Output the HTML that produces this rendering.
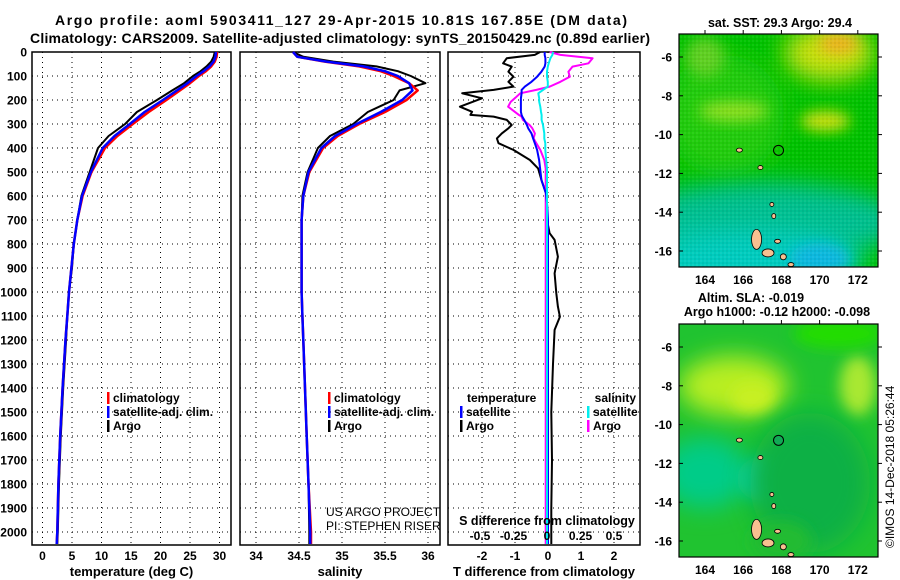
<!DOCTYPE html>
<html><head><meta charset="utf-8"><style>
html,body{margin:0;padding:0;background:#fff;}
svg{display:block;font-family:"Liberation Sans",sans-serif;}
</style></head><body>
<svg id="c" width="900" height="580" viewBox="0 0 900 580" xmlns="http://www.w3.org/2000/svg">
<defs>
<filter id="bl" x="-50%" y="-50%" width="200%" height="200%"><feGaussianBlur stdDeviation="12"/></filter>
<filter id="bl2" x="-50%" y="-50%" width="200%" height="200%"><feGaussianBlur stdDeviation="7"/></filter>
<clipPath id="m1"><rect x="679" y="34" width="199" height="233"/></clipPath>
<clipPath id="m2"><rect x="679" y="324" width="199" height="233"/></clipPath>
<pattern id="px" width="4" height="4" patternUnits="userSpaceOnUse"><rect width="4" height="4" fill="none"/><rect width="2" height="2" fill="rgba(255,255,255,0.06)"/><rect x="2" y="2" width="2" height="2" fill="rgba(0,0,0,0.05)"/></pattern>
</defs>
<g font-weight="bold" font-size="14" fill="#000">
<text x="341" y="25" text-anchor="middle" textLength="572">Argo profile: aoml 5903411_127 29-Apr-2015 10.81S 167.85E (DM data)</text>
<text x="340" y="43" text-anchor="middle" textLength="620">Climatology: CARS2009. Satellite-adjusted climatology: synTS_20150429.nc (0.89d earlier)</text>
</g>
<g id="panels"></g>
<g id="maps"></g>
</svg>
<script>
// ---- data ----
const depths = [0,20,40,60,80,100,130,160,200,250,300,350,400,500,600,700,800,900,1000,1100,1200,1400,1600,1800,2000,2050];
const tempArgo = [29.2,29.0,28.6,27.8,26.8,25.5,24.0,22.0,19.4,16.0,14.0,11.2,9.4,8.0,6.6,5.9,5.3,5.0,4.5,4.2,4.0,3.5,3.1,2.8,2.6,2.5];
const tempClim = [29.6,29.5,29.2,28.6,27.7,26.5,25.0,23.3,21.0,18.0,15.3,12.7,10.6,8.3,6.8,5.9,5.3,4.9,4.5,4.2,3.9,3.4,3.0,2.7,2.5,2.4];
const tempSat = [29.4,29.3,29.0,28.3,27.3,26.1,24.6,22.8,20.4,17.3,14.8,12.2,10.2,8.2,6.7,5.9,5.3,4.9,4.5,4.2,3.9,3.4,3.0,2.7,2.5,2.4];
const salArgo = [34.43,34.55,34.9,35.4,35.65,35.8,35.97,35.67,35.6,35.3,35.13,34.86,34.72,34.6,34.54,34.53,34.53,34.53,34.53,34.54,34.55,34.57,34.59,34.61,34.62,34.62];
const salClim = [34.43,34.48,34.8,35.2,35.45,35.6,35.78,35.88,35.75,35.5,35.2,34.95,34.78,34.62,34.55,34.53,34.53,34.53,34.53,34.54,34.55,34.57,34.59,34.61,34.64,34.64];
const salSat = [34.43,34.48,34.82,35.25,35.5,35.65,35.78,35.82,35.7,35.45,35.17,34.92,34.76,34.61,34.55,34.53,34.53,34.53,34.53,34.54,34.55,34.57,34.59,34.61,34.63,34.63];
const diffDepths = [0,12,26,47,61,82,103,124,144,158,172,193,207,228,249,262,269,283,304,318,339,360,380,408,450,485,533,589,644,700,755,783,853,922,1005,1061,1103,1158,1300,1500,1700,1900,2050];
const tdiffArgo = [-0.24,-0.4,-1.25,-1.36,-1.1,-1.2,-1.05,-1.2,-1.05,-1.65,-2.6,-2.0,-2.27,-2.67,-2.3,-2.35,-1.65,-1.25,-1.1,-1.2,-1.4,-1.55,-1.5,-1.05,-0.55,-0.3,-0.2,-0.06,-0.05,-0.03,0.05,0.2,0.3,0.2,0.25,0.3,0.36,0.2,0.15,0.1,0.12,0.1,0.1];
const tdiffSat = [-0.1,-0.1,-0.08,-0.08,-0.1,-0.2,-0.33,-0.5,-0.7,-0.8,-0.8,-0.82,-0.82,-0.82,-0.82,-0.8,-0.78,-0.72,-0.64,-0.6,-0.5,-0.45,-0.4,-0.33,-0.27,-0.24,-0.2,-0.06,-0.02,0,0,0,0,0,0,0,0,0,0,0,0,0,0];
const sdiffArgo = [0.02,0.1,0.34,0.31,0.19,0.16,0.17,0.1,0.02,-0.08,-0.2,-0.24,-0.27,-0.29,-0.24,-0.21,-0.19,-0.18,-0.13,-0.11,-0.09,-0.1,-0.08,-0.05,-0.02,-0.01,-0.01,-0.01,-0.01,-0.01,-0.01,-0.01,-0.01,-0.01,-0.01,-0.01,-0.01,-0.01,-0.01,-0.01,-0.01,-0.01,-0.01];
const sdiffSat = [0.045,0.04,0.025,0.013,0.006,0,0,0.006,0.006,-0.03,-0.065,-0.058,-0.058,-0.05,-0.045,-0.04,-0.04,-0.04,-0.03,-0.026,-0.02,-0.02,-0.013,-0.013,-0.006,0,0,0,0,0,0,0,0,0,0,0,0,0,0,0,0,0,0];
const depthTicks = [0,100,200,300,400,500,600,700,800,900,1000,1100,1200,1300,1400,1500,1600,1700,1800,1900,2000];
const tempTicks = [0,5,10,15,20,25,30];
const salTicks = [34,34.5,35,35.5,36];
const tdiffTicks = [-2,-1,0,1,2];
const sdiffTicks = [-0.5,-0.25,0,0.25,0.5];
const lonTicks = [164,166,168,170,172];
const latTicks = [-6,-8,-10,-12,-14,-16];

const NS='http://www.w3.org/2000/svg';
const panels=document.getElementById('panels');
function mk(tag,attrs,parent,text){const e=document.createElementNS(NS,tag);for(const k in attrs)e.setAttribute(k,attrs[k]);if(text!==undefined)e.textContent=text;(parent||panels).appendChild(e);return e;}
const TOP=52, BOT=545;
const yD = d => TOP + d*0.24;
const xT = t => 42.5 + t*5.9;
const xS = s => 256 + (s-34)*86;
const xTD = v => 548 + v*33;
const xSD = v => 547 + v*134;
const fmt = v => String(v);

function frame(x0,x1,name,xticks,xf,label){
  const g=mk('g',{});
  
  
  depthTicks.forEach(d=>{ if(d>0){const l=mk('line',{x1:x0,x2:x1,y1:yD(d),y2:yD(d),stroke:'#000','stroke-width':1,'stroke-dasharray':'1 4'},g);}});
  xticks.forEach(v=>{const l=mk('line',{x1:xf(v),x2:xf(v),y1:TOP,y2:BOT,stroke:'#000','stroke-width':1,'stroke-dasharray':'1 4'},g);
    const t=mk('text',{x:xf(v),y:560,'text-anchor':'middle','font-size':12,'font-weight':'bold'},g,fmt(v));});
  const r=mk('rect',{x:x0,y:TOP,width:x1-x0,height:BOT-TOP,fill:'none',stroke:'#000','stroke-width':1.5},g);
  
  const t=mk('text',{x:(x0+x1)/2,y:576,'text-anchor':'middle','font-size':13,'font-weight':'bold'},g,label);
  
  return g;
}
function line(g,xs,ds,xf,color,w,name){
  const pts=xs.map((v,i)=>xf(v).toFixed(1)+','+yD(ds[i]).toFixed(1)).join(' ');
  const p=mk('polyline',{points:pts,fill:'none',stroke:color,'stroke-width':w,'stroke-linejoin':'round'},g);
  
  
}
depthTicks.forEach(d=>{const t=mk('text',{x:27,y:yD(d)+4.5,'text-anchor':'end','font-size':12,'font-weight':'bold'},panels,String(d));});

const g1=frame(32,231,'temperature-panel',tempTicks,xT,'temperature (deg C)');
line(g1,tempArgo,depths,xT,'#000',2,'temp-argo-line');
line(g1,tempClim,depths,xT,'#f00',2.5,'temp-climatology-line');
line(g1,tempSat,depths,xT,'#00f',2.5,'temp-satellite-line');
const g2=frame(240,440,'salinity-panel',salTicks,xS,'salinity');
line(g2,salArgo,depths,xS,'#000',2,'sal-argo-line');
line(g2,salClim,depths,xS,'#f00',2.5,'sal-climatology-line');
line(g2,salSat,depths,xS,'#00f',2.5,'sal-satellite-line');
const g3=frame(448,640,'difference-panel',tdiffTicks,xTD,'T difference from climatology');
line(g3,tdiffArgo,diffDepths,xTD,'#000',2,'tdiff-argo-line');
line(g3,sdiffArgo,diffDepths,xSD,'#f0f',2,'sdiff-argo-line');
line(g3,tdiffSat,diffDepths,xTD,'#00f',2,'tdiff-satellite-line');
line(g3,sdiffSat,diffDepths,xSD,'#0ee',2,'sdiff-satellite-line');
sdiffTicks.forEach(v=>{const t=mk('text',{x:xSD(v),y:540,'text-anchor':'middle','font-size':12,'font-weight':'bold'},g3,fmt(v));});
{const t=mk('text',{x:547,y:525,'text-anchor':'middle','font-size':12.5,'font-weight':'bold'},g3,'S difference from climatology');}

function legend(x,y,color,label,g){
  const lg=mk('g',{},g);
  
  
  mk('rect',{x:x,y:y-10,width:2.5,height:12,fill:color},lg);
  mk('text',{x:x+6,y:y,'font-size':12,'font-weight':'bold'},lg,label);
}
legend(107,402,'#f00','climatology',g1);legend(107,416,'#00f','satellite-adj. clim.',g1);legend(107,430,'#000','Argo',g1);
legend(328,402,'#f00','climatology',g2);legend(328,416,'#00f','satellite-adj. clim.',g2);legend(328,430,'#000','Argo',g2);
{const t=mk('text',{x:467,y:402,'font-size':12,'font-weight':'bold'},g3,'temperature');}
{const t=mk('text',{x:636,y:402,'text-anchor':'end','font-size':12,'font-weight':'bold'},g3,'salinity');}
legend(460,416,'#00f','satellite',g3);legend(460,430,'#000','Argo',g3);
legend(587,416,'#0ee','satellite',g3);legend(587,430,'#f0f','Argo',g3);
{const t=mk('text',{x:326,y:516,'font-size':12},g2,'US ARGO PROJECT');}
{const t=mk('text',{x:326,y:530,'font-size':12},g2,'PI: STEPHEN RISER');}

// ---- maps ----
const maps=document.getElementById('maps');
const MX0=679, MW=199;
const xLon = lon => 705 + (lon-164)*19.1;
function mapFrame(y0,clip,blobs,base,name,idx){
  const g=mk('g',{},maps);
  
  
  const yLat = lat => (y0+23) + (-6-lat)*19.4;
  const cg=mk('g',{'clip-path':'url(#'+clip+')'},g);
  mk('rect',{x:MX0,y:y0,width:MW,height:233,fill:base},cg);
  blobs.forEach(b=>mk('ellipse',{cx:xLon(b[0]),cy:yLat(b[1]),rx:b[2],ry:b[3],fill:b[4],filter:'url(#'+(b[5]||'bl')+')'},cg));
  if(idx===0) mk('rect',{x:MX0,y:y0,width:MW,height:233,fill:'url(#px)'},cg);
  const isl=[[166.7,-15.4,5,10],[167.3,-16.1,6,4],[168.1,-16.3,3,3],[167.8,-15.5,3,2],[166.9,-11.7,2.5,2],[165.8,-10.8,3,2],[167.6,-14.2,2,2.5],[167.5,-13.6,2,2],[168.5,-16.7,3,2]];
  isl.forEach(s=>{const e=mk('ellipse',{cx:xLon(s[0]),cy:yLat(s[1]),rx:s[2],ry:s[3],fill:'#f8c090',stroke:'#000','stroke-width':0.8},cg);});
  const c=mk('circle',{cx:xLon(167.85),cy:yLat(-10.81),r:5,fill:idx===1?'#11aa55':'none',stroke:'#000','stroke-width':1},cg);
  
  mk('rect',{x:MX0,y:y0,width:MW,height:233,fill:'none',stroke:'#000','stroke-width':1.2},g);
  latTicks.forEach(l=>{const y=yLat(l);mk('line',{x1:MX0,x2:MX0+4,y1:y,y2:y,stroke:'#000'},g);mk('line',{x1:MX0+MW,x2:MX0+MW+4,y1:y,y2:y,stroke:'#000'},g);
    const t=mk('text',{x:672,y:y+4.5,'text-anchor':'end','font-size':12,'font-weight':'bold'},g,String(l));});
  lonTicks.forEach(l=>{const x=xLon(l);mk('line',{x1:x,x2:x,y1:y0-4,y2:y0,stroke:'#000'},g);
    const t=mk('text',{x:x,y:y0+250,'text-anchor':'middle','font-size':12,'font-weight':'bold'},g,String(l));});
  return yLat;
}
mapFrame(34,'m1',[
 [165,-9,60,60,'#22cc11'],
 [167,-14.5,140,40,'#00c090'],
 [166,-16.5,120,30,'#00ccc0'],
 [170,-16.4,30,16,'#10b8e0','bl2'],
 [170.5,-5.8,45,28,'#c8e010'],
 [171,-5.3,20,10,'#f0b020','bl2'],
 [170.3,-9.3,25,10,'#d0e010','bl2'],
 [165.5,-8.8,35,10,'#90e020','bl2'],
 [164,-6,20,20,'#60d020','bl2']
],'#00c200','sst-map',0);
mapFrame(324,'m2',[
 [165.5,-8,55,30,'#b8ee20'],
 [166.5,-8.6,22,15,'#c8f020','bl2'],
 [172,-8,18,30,'#a8e830','bl2'],
 [164,-12.5,45,35,'#00cc88'],
 [167,-12.8,25,22,'#10d0a0','bl2'],
 [169.5,-13,60,70,'#11b044'],
 [171,-5.3,45,15,'#22dd00','bl2'],
 [168,-16,30,20,'#22bb33','bl2']
],'#20c330','sla-map',1);
function mt(x,y,s,name){const t=mk('text',{x:x,y:y,'text-anchor':'middle','font-size':12.5,'font-weight':'bold'},maps,s);}
mt(780,27,'sat. SST: 29.3 Argo: 29.4','sst-map-title');
mt(751,302,'Altim. SLA: -0.019','sla-map-title');
mt(777,316,'Argo h1000: -0.12 h2000: -0.098','steric-height-title');
{const t=mk('text',{x:0,y:0,'font-size':12,transform:'translate(894,548) rotate(-90)'},maps,'©IMOS 14-Dec-2018 05:26:44');}
</script>
</body></html>
